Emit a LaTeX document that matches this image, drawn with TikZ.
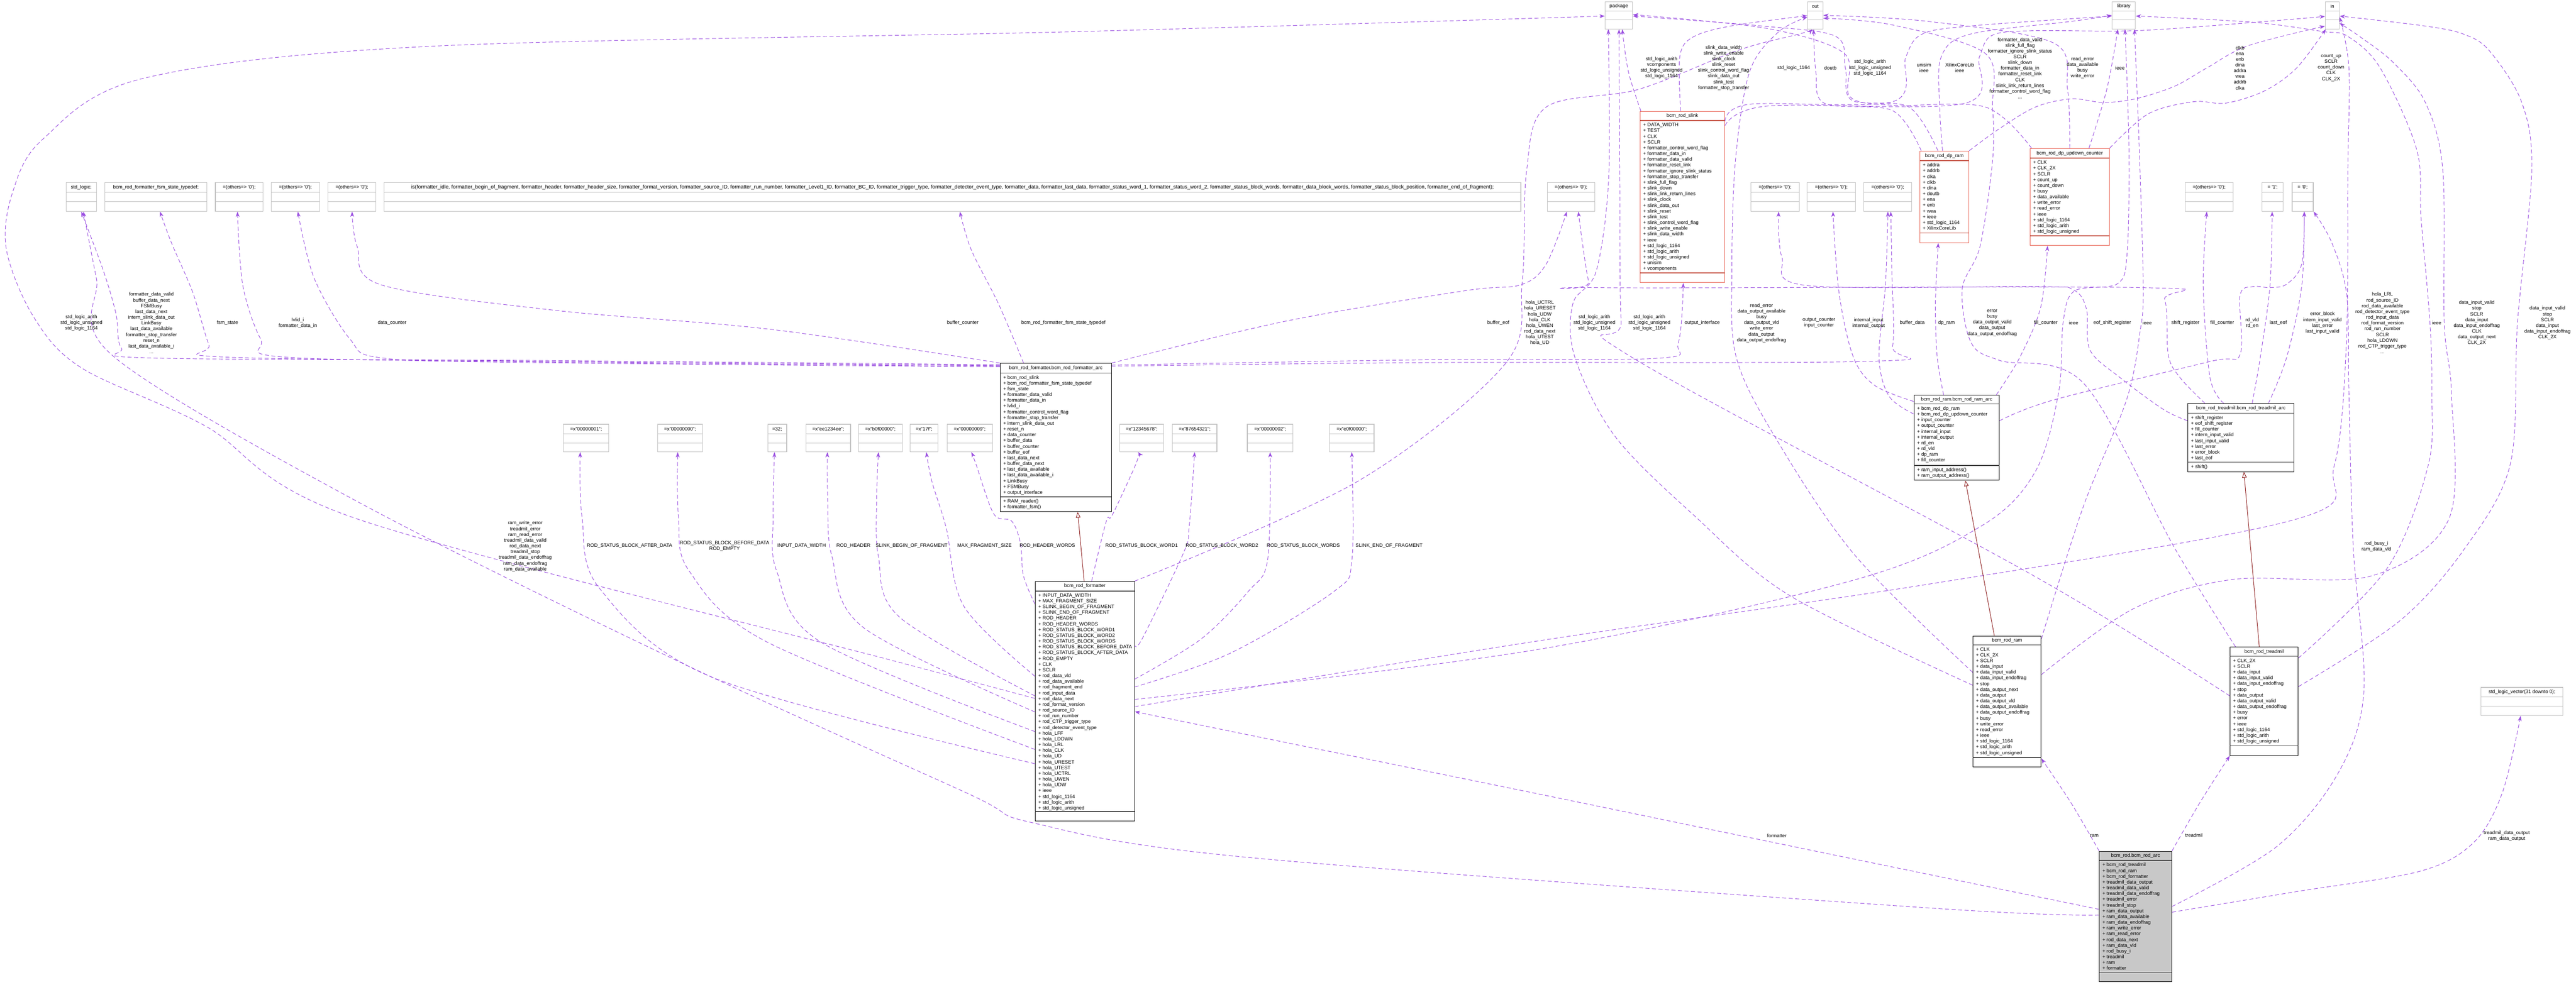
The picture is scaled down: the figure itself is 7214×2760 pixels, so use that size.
\documentclass[tikz,border=0pt]{standalone}
\usepackage{fontspec}
\usepackage{graphicx}
\setmainfont{Liberation Sans}
\usetikzlibrary{fit,calc,arrows.meta}
\pgfdeclarelayer{bg}
\pgfsetlayers{bg,main}
\definecolor{ecol}{RGB}{155,80,225}
\definecolor{inhcol}{RGB}{139,26,26}
\definecolor{gbord}{RGB}{195,195,195}
\definecolor{rbord}{RGB}{232,96,80}
\definecolor{rodfill}{RGB}{200,200,200}
\newcommand\dfs{\fontsize{3.9}{4.58}\selectfont}
\newcommand\q{\textquotesingle}
\tikzset{
 gbox/.style={draw=gbord, fill=white, line width=0.5pt},
 gboxsep/.style={draw=gbord, line width=0.5pt},
 rbox/.style={draw=rbord, fill=white, line width=0.45pt},
 rboxsep/.style={draw=rbord!85!black, line width=0.7pt},
 kbox/.style={draw=black, fill=white, line width=0.35pt},
 kboxsep/.style={draw=black!75, line width=0.6pt},
 rodbox/.style={draw=black, fill=rodfill, line width=0.35pt},
 rodboxsep/.style={draw=black!75, line width=0.6pt},
 ttl/.style={font=\dfs, inner sep=0pt, anchor=center},
 atx/.style={font=\dfs, inner sep=0pt, anchor=north west, align=left},
 lbl/.style={font=\dfs, inner sep=0pt, align=center, anchor=center},
 usedge/.style={draw=ecol, line width=0.4pt, dash pattern=on 3.2pt off 2pt, -{Stealth[length=4.2pt,width=3pt,inset=1.2pt]}},
 inh/.style={draw=inhcol, line width=0.4pt, -{Triangle[open,length=4.5pt,width=3.6pt]}},
}
% name, style, l, t, r, b, title-bottom, attr-bottom, title
\newcommand\ubox[9]{%
 \node[#2, fit={(#3,#4) (#5,#6)}, inner sep=0pt] (#1) {};
 \draw[#2sep] (#3,#7) -- (#5,#7);
 \draw[#2sep] (#3,#8) -- (#5,#8);
 \node[ttl] (#1T) at ({(#3+#5)/2},{(#4+#7)/2}) {#9};
}
\newcommand\atr[4]{\node[atx] (#1) at (#2+8,#3+6.5) {#4};}
\newcommand\ue[3]{%
 \coordinate (ueS) at (#1);
 \coordinate (ueT) at (#3);
 \draw[usedge] plot[smooth, tension=0.55] coordinates {(ueS) #2 (ueT)};
}
\begin{document}
\catcode`\_=12
\begin{tikzpicture}[x=0.01cm,y=-0.01cm]
\begin{pgfonlayer}{bg}
\fill[white] (0,0) rectangle (7214,2760);
\end{pgfonlayer}
\useasboundingbox (0,0) rectangle (7214,2760);

% ---------- top row
\ubox{pkg}{gbox}{4495}{5}{4572}{81}{31}{56}{package}
\ubox{outb}{gbox}{5062}{5}{5105}{81}{31}{56}{out}
\ubox{lib}{gbox}{5915}{5}{5980}{81}{31}{56}{library}
\ubox{inb}{gbox}{6512}{5}{6551}{81}{31}{56}{in}

% ---------- second row
\ubox{stdl}{gbox}{185}{511}{270}{592}{539}{565}{std_logic;}
\ubox{fsmt}{gbox}{294}{511}{579}{592}{539}{565}{bcm_rod_formatter_fsm_state_typedef;}
\ubox{oth1}{gbox}{603}{511}{737}{592}{539}{565}{=(others=> \q0\q);}
\ubox{oth2}{gbox}{760}{511}{895}{592}{539}{565}{=(others=> \q0\q);}
\ubox{oth3}{gbox}{918}{511}{1053}{592}{539}{565}{=(others=> \q0\q);}
\ubox{isb}{gbox}{1076}{511}{4259}{592}{539}{565}{\resizebox{30.3cm}{!}{\dfs is(formatter_idle, formatter_begin_of_fragment, formatter_header, formatter_header_size, formatter_format_version, formatter_source_ID, formatter_run_number, formatter_Level1_ID, formatter_BC_ID, formatter_trigger_type, formatter_detector_event_type, formatter_data, formatter_last_data, formatter_status_word_1, formatter_status_word_2, formatter_status_block_words, formatter_data_block_words, formatter_status_block_position, formatter_end_of_fragment);}}
\ubox{oth4}{gbox}{4333}{511}{4466}{592}{539}{565}{=(others=> \q0\q);}
\ubox{oth5}{gbox}{4903}{511}{5039}{592}{539}{565}{=(others=> \q0\q);}
\ubox{oth6}{gbox}{5061}{511}{5196}{592}{539}{565}{=(others=> \q0\q);}
\ubox{oth7}{gbox}{5219}{511}{5354}{592}{539}{565}{=(others=> \q0\q);}
\ubox{oth8}{gbox}{6119}{511}{6254}{592}{539}{565}{=(others=> \q0\q);}
\ubox{one}{gbox}{6335}{511}{6394}{592}{539}{565}{= \q1\q;}
\ubox{zero}{gbox}{6419}{511}{6478}{592}{539}{565}{= \q0\q;}

\ubox{slink}{rbox}{4593}{312}{4830}{792}{338}{765}{bcm_rod_slink}
\atr{slinkA}{4593}{338}{+ DATA_WIDTH\\+ TEST\\+ CLK\\+ SCLR\\+ formatter_control_word_flag\\+ formatter_data_in\\+ formatter_data_valid\\+ formatter_reset_link\\+ formatter_ignore_slink_status\\+ formatter_stop_transfer\\+ slink_full_flag\\+ slink_down\\+ slink_link_return_lines\\+ slink_clock\\+ slink_data_out\\+ slink_reset\\+ slink_test\\+ slink_control_word_flag\\+ slink_write_enable\\+ slink_data_width\\+ ieee\\+ std_logic_1164\\+ std_logic_arith\\+ std_logic_unsigned\\+ unisim\\+ vcomponents}
\ubox{dpram}{rbox}{5376}{423}{5514}{680}{450}{653}{bcm_rod_dp_ram}
\atr{dpramA}{5376}{450}{+ addra\\+ addrb\\+ clka\\+ clkb\\+ dina\\+ doutb\\+ ena\\+ enb\\+ wea\\+ ieee\\+ std_logic_1164\\+ XilinxCoreLib}
\ubox{dpuc}{rbox}{5685}{416}{5907}{688}{443}{661}{bcm_rod_dp_updown_counter}
\atr{dpucA}{5685}{443}{+ CLK\\+ CLK_2X\\+ SCLR\\+ count_up\\+ count_down\\+ busy\\+ data_available\\+ write_error\\+ read_error\\+ ieee\\+ std_logic_1164\\+ std_logic_arith\\+ std_logic_unsigned}

% ---------- architectures
\ubox{fa}{kbox}{2801}{1018}{3112}{1434}{1045}{1392}{bcm_rod_formatter.bcm_rod_formatter_arc}
\atr{faA}{2801}{1045}{+ bcm_rod_slink\\+ bcm_rod_formatter_fsm_state_typedef\\+ fsm_state\\+ formatter_data_valid\\+ formatter_data_in\\+ lvlid_i\\+ formatter_control_word_flag\\+ formatter_stop_transfer\\+ intern_slink_data_out\\+ reset_n\\+ data_counter\\+ buffer_data\\+ buffer_counter\\+ buffer_eof\\+ last_data_next\\+ buffer_data_next\\+ last_data_available\\+ last_data_available_i\\+ LinkBusy\\+ FSMBusy\\+ output_interface}
\atr{faM}{2801}{1392}{+ RAM_reader()\\+ formatter_fsm()}

\ubox{ramarc}{kbox}{5360}{1107}{5599}{1346}{1132}{1304}{bcm_rod_ram.bcm_rod_ram_arc}
\atr{ramarcA}{5360}{1132}{+ bcm_rod_dp_ram\\+ bcm_rod_dp_updown_counter\\+ input_counter\\+ output_counter\\+ internal_input\\+ internal_output\\+ rd_en\\+ rd_vld\\+ dp_ram\\+ fill_counter}
\atr{ramarcM}{5360}{1304}{+ ram_input_address()\\+ ram_output_address()}

\ubox{tmarc}{kbox}{6127}{1131}{6424}{1322}{1158}{1295}{bcm_rod_treadmil.bcm_rod_treadmil_arc}
\atr{tmarcA}{6127}{1158}{+ shift_register\\+ eof_shift_register\\+ fill_counter\\+ intern_input_valid\\+ last_input_valid\\+ last_error\\+ error_block\\+ last_eof}
\atr{tmarcM}{6127}{1295}{+ shift()}

% ---------- constants
\ubox{ca}{gbox}{1578}{1189}{1705}{1266}{1216}{1241}{=x"00000001";}
\ubox{cb}{gbox}{1842}{1189}{1967}{1266}{1216}{1241}{=x"00000000";}
\ubox{cc}{gbox}{2150}{1189}{2203}{1266}{1216}{1241}{=32;}
\ubox{cd}{gbox}{2257}{1189}{2382}{1266}{1216}{1241}{=x"ee1234ee";}
\ubox{ce}{gbox}{2404}{1189}{2527}{1266}{1216}{1241}{=x"b0f00000";}
\ubox{cf}{gbox}{2549}{1189}{2627}{1266}{1216}{1241}{=x"17f";}
\ubox{cg}{gbox}{2652}{1189}{2779}{1266}{1216}{1241}{=x"00000009";}
\ubox{ch}{gbox}{3136}{1189}{3259}{1266}{1216}{1241}{=x"12345678";}
\ubox{ci}{gbox}{3283}{1189}{3408}{1266}{1216}{1241}{=x"87654321";}
\ubox{cj}{gbox}{3493}{1189}{3621}{1266}{1216}{1241}{=x"00000002";}
\ubox{ck}{gbox}{3723}{1189}{3848}{1266}{1216}{1241}{=x"e0f00000";}

% ---------- entities
\ubox{fmt}{kbox}{2899}{1629}{3177}{2301}{1656}{2274}{bcm_rod_formatter}
\atr{fmtA}{2899}{1656}{+ INPUT_DATA_WIDTH\\+ MAX_FRAGMENT_SIZE\\+ SLINK_BEGIN_OF_FRAGMENT\\+ SLINK_END_OF_FRAGMENT\\+ ROD_HEADER\\+ ROD_HEADER_WORDS\\+ ROD_STATUS_BLOCK_WORD1\\+ ROD_STATUS_BLOCK_WORD2\\+ ROD_STATUS_BLOCK_WORDS\\+ ROD_STATUS_BLOCK_BEFORE_DATA\\+ ROD_STATUS_BLOCK_AFTER_DATA\\+ ROD_EMPTY\\+ CLK\\+ SCLR\\+ rod_data_vld\\+ rod_data_available\\+ rod_fragment_end\\+ rod_input_data\\+ rod_data_next\\+ rod_format_version\\+ rod_source_ID\\+ rod_run_number\\+ rod_CTP_trigger_type\\+ rod_detector_event_type\\+ hola_LFF\\+ hola_LDOWN\\+ hola_LRL\\+ hola_CLK\\+ hola_UD\\+ hola_URESET\\+ hola_UTEST\\+ hola_UCTRL\\+ hola_UWEN\\+ hola_UDW\\+ ieee\\+ std_logic_1164\\+ std_logic_arith\\+ std_logic_unsigned}

\ubox{ram}{kbox}{5525}{1782}{5716}{2149}{1807}{2122}{bcm_rod_ram}
\atr{ramA}{5525}{1807}{+ CLK\\+ CLK_2X\\+ SCLR\\+ data_input\\+ data_input_valid\\+ data_input_endoffrag\\+ stop\\+ data_output_next\\+ data_output\\+ data_output_vld\\+ data_output_available\\+ data_output_endoffrag\\+ busy\\+ write_error\\+ read_error\\+ ieee\\+ std_logic_1164\\+ std_logic_arith\\+ std_logic_unsigned}

\ubox{tm}{kbox}{6245}{1813}{6436}{2117}{1839}{2090}{bcm_rod_treadmil}
\atr{tmA}{6245}{1839}{+ CLK_2X\\+ SCLR\\+ data_input\\+ data_input_valid\\+ data_input_endoffrag\\+ stop\\+ data_output\\+ data_output_valid\\+ data_output_endoffrag\\+ busy\\+ error\\+ ieee\\+ std_logic_1164\\+ std_logic_arith\\+ std_logic_unsigned}

\ubox{slv}{gbox}{6948}{1926}{7177}{2005}{1953}{1979}{std_logic_vector(31 downto 0);}

\ubox{rod}{rodbox}{5879}{2385}{6082}{2751}{2411}{2725}{bcm_rod.bcm_rod_arc}
\atr{rodA}{5879}{2411}{+ bcm_rod_treadmil\\+ bcm_rod_ram\\+ bcm_rod_formatter\\+ treadmil_data_output\\+ treadmil_data_valid\\+ treadmil_data_endoffrag\\+ treadmil_error\\+ treadmil_stop\\+ ram_data_output\\+ ram_data_available\\+ ram_data_endoffrag\\+ ram_write_error\\+ ram_read_error\\+ rod_data_next\\+ ram_data_vld\\+ rod_busy_i\\+ treadmil\\+ ram\\+ formatter}

% ---------- connectors
\begin{pgfonlayer}{bg}
% formatter_arc
\ue{$(fa.west)+(0,-204)$}{(1500,1010) (420,1003) (340,975) (325,880) (290,760)}{$(stdl.south)+(0,0)$}
\ue{$(fa.west)+(0,-202)$}{(1500,1012) (620,1000) (585,965) (540,820) (480,680)}{$(fsmt.south)+(11.5,0)$}
\ue{$(fa.west)+(0,-200)$}{(1500,1014) (790,1000) (730,950) (680,800)}{$(oth1.south)+(-5,0)$}
\ue{$(fa.west)+(0,-198)$}{(1500,1016) (1070,1003) (980,950) (880,780)}{$(oth2.south)+(6.5,0)$}
\ue{$(fa.north west)$}{(2160,923) (1558,870) (1067,798) (1000,690)}{$(oth3.south)+(0.5,0)$}
\ue{$(fa.north)+(-90,0)$}{(2797,853) (2720,700)}{$(isb.south)+(20.5,0)$}
\ue{$(fa.north east)$}{(3600,900) (4100,815) (4259,798) (4330,740)}{$(oth4.south)+(-11.5,0)$}
\ue{$(fa.east)+(0,-200)$}{(4000,1016) (5250,1012) (5300,970) (5298,760)}{$(oth7.south)+(8.5,0)$}
\ue{$(fa.east)+(0,-203)$}{(4000,1008) (4640,1004) (4700,960)}{$(slink.south)+(2.5,0)$}
% formatter
\ue{$(fmt.west)+(0,-8)$}{(2496,1850) (1000,1454) (574,1193) (230,1032) (96,891) (18,700) (35,540) (120,390) (400,220) (1200,130) (3000,89)}{$(pkg.west)+(0,2)$}
\ue{$(fmt.east)+(0,-5)$}{(4300,1821) (5193,1625) (5550,1473) (5700,1321) (5765,1100) (5778,900) (5810,815) (5930,795) (5957,707) (5962,420)}{$(lib.south)+(3.5,0)$}
\ue{$(fmt.east)+(0,15)$}{(4300,1797) (5400,1637) (6433,1454) (6537,1304) (6571,960) (6575,478) (6578,191)}{$(inb.east)+(0,5)$}
\ue{$(fmt.north east)$}{(3800,1350) (4214,1021) (4263,789) (4275,480) (4330,300) (4590,250) (4870,140) (5040,95)}{$(outb.south)+(-8,0)$}
\ue{$(fmt.west)+(0,175)$}{(2000,1900) (1680,1650) (1630,1450)}{$(ca.south)+(-16.5,0)$}
\ue{$(fmt.west)+(0,135)$}{(2150,1800) (1930,1600) (1900,1450)}{$(cb.south)+(-6.5,0)$}
\ue{$(fmt.west)+(0,85)$}{(2300,1800) (2175,1600) (2165,1450)}{$(cc.south)+(-7.5,0)$}
\ue{$(fmt.west)+(0,30)$}{(2420,1760) (2330,1560) (2318,1400)}{$(cd.south)+(-2.5,0)$}
\ue{$(fmt.west)+(0,-15)$}{(2520,1730) (2460,1560) (2455,1400)}{$(ce.south)+(-5.5,0)$}
\ue{$(fmt.west)+(0,-70)$}{(2700,1700) (2650,1480) (2610,1350)}{$(cf.south)+(6,0)$}
\ue{$(fmt.west)+(0,-272)$}{(2866,1613) (2858,1523) (2833,1460) (2783,1440) (2733,1300)}{$(cg.south)+(4.5,0)$}
\ue{$(fmt.north)+(19,0)$}{(3098,1461) (3115,1443) (3181,1300)}{$(ch.south)+(-10.5,0)$}
\ue{$(fmt.east)+(0,-161)$}{(3198,1791) (3314,1550) (3330,1479)}{$(ci.south)+(0,0)$}
\ue{$(fmt.east)+(0,-62)$}{(3363,1791) (3496,1657) (3550,1568)}{$(cj.south)+(0,0)$}
\ue{$(fmt.east)+(0,-40)$}{(3446,1830) (3736,1657) (3786,1568)}{$(ck.south)+(0,0)$}
% ram
\ue{$(ram.west)+(0,-45.5)$}{(5014,1670) (4746,1446) (4523,1223) (4410,1000) (4405,850) (4470,760) (4505,500)}{$(pkg.south)+(-29.5,0)$}
\ue{$(ram.east)+(0,-175)$}{(5834,1420) (5955,1121) (5993,930) (6002,803) (5991,420)}{$(lib.south)+(30,0)$}
\ue{$(ram.east)+(0,-75)$}{(5974,1706) (6250,1624) (6640,1614) (6858,1454) (6865,1100) (6845,905) (6841,478) (6792,287) (6702,175) (6612,105)}{$(inb.east)+(0,22)$}
\ue{$(ram.west)+(0,-81.5)$}{(5193,1554) (4970,1223) (4862,1000) (4850,760) (4860,450) (4900,200) (4980,90)}{$(outb.west)+(0,5)$}
% treadmil
\ue{$(tm.west)+(0,-15)$}{(5700,1616) (4568,1000) (4540,900) (4536,500)}{$(pkg.south)+(0.5,0)$}
\ue{$(tm.east)+(0,-121)$}{(6686,1591) (6800,1304) (6810,1100) (6805,905) (6780,611) (6768,420) (6666,191) (6575,102) (6503,88) (6305,62)}{$(lib.east)+(0,2)$}
\ue{$(tm.east)+(0,-41)$}{(6720,1740) (6900,1540) (7030,1300) (7050,905) (7090,478) (7062,287) (6972,143) (6900,96) (6792,73)}{$(inb.east)+(0,2)$}
\ue{$(tm.north west)+(16,0)$}{(6089,1534) (5836,1075) (5600,1010) (5520,960) (5495,810) (5545,690) (5580,450) (5580,300) (5560,150) (5300,70)}{$(outb.east)+(0,8)$}
% ram arc
\ue{$(ramarc.north)+(-36.5,0)$}{(5425,1000) (5420,850)}{$(dpram.south)+(-17,0)$}
\ue{$(ramarc.north east)+(-9,0)$}{(5657,1000) (5715,860)}{$(dpuc.south)+(-62,0)$}
\ue{$(ramarc.west)+(0,-101.5)$}{(5250,1080) (5190,1000) (5150,820)}{$(oth6.south)+(4.5,0)$}
\ue{$(ramarc.west)+(0,-66.5)$}{(5290,1110) (5262,1000) (5280,800)}{$(oth7.south)+(0.5,0)$}
\ue{$(ramarc.east)+(0,-47.5)$}{(5750,1121) (6189,1013) (6273,994) (6273,828) (6310,803) (6357,806) (6404,796) (6446,739)}{$(zero.south)+(4.5,0)$}
% treadmil arc
\ue{$(tmarc.north)+(-47.5,0)$}{(6189,1058) (6170,803)}{$(oth8.south)+(-6.5,0)$}
\ue{$(tmarc.north)+(31.5,0)$}{(6330,1000) (6357,800)}{$(one.south)+(-1.5,0)$}
\ue{$(tmarc.north)+(77,0)$}{(6404,1000) (6446,800)}{$(zero.south)+(4.5,0)$}
\ue{$(tmarc.north)+(-100.5,0)$}{(6105,1058) (6072,994) (6062,840) (6000,806) (4478,806) (4449,789)}{$(oth4.south)+(20.5,0)$}
\ue{$(tmarc.west)+(0,-47.5)$}{(6058,1147) (5937,1058) (5853,981) (5843,866) (5806,812) (5700,803) (5060,800) (4990,720)}{$(oth5.south)+(10,0)$}
% bcm_rod arc
\ue{$(rod.north west)$}{(5800,2250)}{$(ram.east)+(0,160)$}
\ue{$(rod.north east)$}{(6160,2250)}{$(tm.south west)$}
\ue{$(rod.west)+(0,-20)$}{(5157,2400) (4300,2223) (3500,2060)}{$(fmt.east)+(0,29)$}
\ue{$(rod.west)+(0,-4)$}{(5400,2544) (3500,2403) (2894,2306) (2705,2221) (1893,1850) (1000,1405) (316,997) (270,780)}{$(stdl.south)+(6,0)$}
\ue{$(rod.east)+(0,-12)$}{(6433,2498) (6778,2441) (6927,2361) (7007,2223)}{$(slv.south)+(-3.5,0)$}
\ue{$(rod.east)+(0,-28)$}{(6376,2372) (6548,2166) (6620,1936) (6590,1531) (6578,1100) (6572,828) (6530,680)}{$(zero.south east)$}
% slink
\ue{$(slink.north west)+(3,0)$}{(4560,200)}{$(pkg.south)+(9.5,0)$}
\ue{$(slink.north)+(-5,0)$}{(4704,160) (4739,105) (4846,73)}{$(outb.west)+(0,1)$}
\ue{$(slink.east)+(0,-212)$}{(4900,292) (5300,285) (5337,160) (5382,96) (5516,73)}{$(lib.west)+(0,2)$}
\ue{$(slink.east)+(0,-200)$}{(4950,297) (5500,290) (5543,160) (5579,99) (5695,86) (5980,86) (6296,64)}{$(inb.west)+(0,3)$}
% dp ram
\ue{$(dpram.north)+(-18,0)$}{(5346,300) (5186,281) (5168,191) (5141,102) (4936,73)}{$(pkg.east)+(0,2)$}
\ue{$(dpram.north west)+(5,0)$}{(5300,310) (5110,290) (5085,200)}{$(outb.south)+(-4.5,0)$}
\ue{$(dpram.north)+(-5,0)$}{(5432,300) (5436,160) (5516,96) (5800,60)}{$(lib.west)$}
\ue{$(dpram.north east)$}{(5600,360) (5700,300) (5800,277) (5890,287) (5980,277) (6089,242) (6179,191) (6296,128)}{$(inb.west)+(0,30)$}
% dp updown counter
\ue{$(dpuc.north west)+(5,0)$}{(5560,300) (5300,295) (5180,270) (5165,150) (4950,80)}{$(pkg.east)+(0,-2)$}
\ue{$(dpuc.north)$}{(5790,250) (5750,120) (5400,60)}{$(outb.east)$}
\ue{$(dpuc.north)+(54,0)$}{(5900,250)}{$(lib.south)+(-16.5,0)$}
\ue{$(dpuc.north east)$}{(6016,319) (6143,285) (6233,289) (6341,255) (6431,191)}{$(inb.south west)+(2,0)$}
% inheritance
\draw[inh] ($(fmt.north)+(-2,0)$) -- ($(fa.south)+(61.5,0)$);
\draw[inh] ($(ram.north)+(-35.5,0)$) -- ($(ramarc.south)+(24.5,0)$);
\draw[inh] ($(tm.north)+(-13.5,0)$) -- ($(tmarc.south)+(8.5,0)$);
\end{pgfonlayer}

% ---------- connector labels
\node[lbl] (t1) at (4653,190) {std_logic_arith\\vcomponents\\std_logic_unsigned\\std_logic_1164};
\node[lbl] (t2) at (4827,190) {slink_data_width\\slink_write_enable\\slink_clock\\slink_reset\\slink_control_word_flag\\slink_data_out\\slink_test\\formatter_stop_transfer};
\node[lbl] (t3) at (5023,190) {std_logic_1164};
\node[lbl] (t4) at (5126,190) {doutb};
\node[lbl] (t5) at (5237,190) {std_logic_arith\\std_logic_unsigned\\std_logic_1164};
\node[lbl] (t6) at (5388,190) {unisim\\ieee};
\node[lbl] (t7) at (5488,190) {XilinxCoreLib\\ieee};
\node[lbl] (t8) at (5657,191) {formatter_data_valid\\slink_full_flag\\formatter_ignore_slink_status\\SCLR\\slink_down\\formatter_data_in\\formatter_reset_link\\CLK\\slink_link_return_lines\\formatter_control_word_flag\\...};
\node[lbl] (t9) at (5832,190) {read_error\\data_available\\busy\\write_error};
\node[lbl] (t10) at (5937,190) {ieee};
\node[lbl] (t11) at (6273,190) {clkb\\ena\\enb\\dina\\addra\\wea\\addrb\\clka};
\node[lbl] (t12) at (6528,190) {count_up\\SCLR\\count_down\\CLK\\CLK_2X};

\node[lbl] (m1) at (228,905) {std_logic_arith\\std_logic_unsigned\\std_logic_1164};
\node[lbl] (m2) at (424,905) {formatter_data_valid\\buffer_data_next\\FSMBusy\\last_data_next\\intern_slink_data_out\\LinkBusy\\last_data_available\\formatter_stop_transfer\\reset_n\\last_data_available_i\\...};
\node[lbl] (m3) at (637,905) {fsm_state};
\node[lbl] (m4) at (834,905) {lvlid_i\\formatter_data_in};
\node[lbl] (m5) at (1098,905) {data_counter};
\node[lbl] (m6) at (2696,905) {buffer_counter};
\node[lbl] (m7) at (2978,905) {bcm_rod_formatter_fsm_state_typedef};
\node[lbl] (m8) at (4196,905) {buffer_eof};
\node[lbl] (m9) at (4312,905) {hola_UCTRL\\hola_URESET\\hola_UDW\\hola_CLK\\hola_UWEN\\rod_data_next\\hola_UTEST\\hola_UD};
\node[lbl] (m10) at (4465,905) {std_logic_arith\\std_logic_unsigned\\std_logic_1164};
\node[lbl] (m11) at (4619,905) {std_logic_arith\\std_logic_unsigned\\std_logic_1164};
\node[lbl] (m12) at (4767,905) {output_interface};
\node[lbl] (m13) at (4933,905) {read_error\\data_output_available\\busy\\data_output_vld\\write_error\\data_output\\data_output_endoffrag};
\node[lbl] (m14) at (5094,905) {output_counter\\input_counter};
\node[lbl] (m15) at (5233,905) {internal_input\\internal_output};
\node[lbl] (m16) at (5355,905) {buffer_data};
\node[lbl] (m17) at (5451,905) {dp_ram};
\node[lbl] (m18) at (5579,905) {error\\busy\\data_output_valid\\data_output\\data_output_endoffrag};
\node[lbl] (m19) at (5729,905) {fill_counter};
\node[lbl] (m20) at (5807,905) {ieee};
\node[lbl] (m21) at (5915,905) {eof_shift_register};
\node[lbl] (m22) at (6013,905) {ieee};
\node[lbl] (m23) at (6120,905) {shift_register};
\node[lbl] (m24) at (6223,905) {fill_counter};
\node[lbl] (m25) at (6307,905) {rd_vld\\rd_en};
\node[lbl] (m26) at (6380,905) {last_eof};
\node[lbl] (m27) at (6504,905) {error_block\\intern_input_valid\\last_error\\last_input_valid};
\node[lbl] (m28) at (6672,905) {hola_LRL\\rod_source_ID\\rod_data_available\\rod_detector_event_type\\rod_input_data\\rod_format_version\\rod_run_number\\SCLR\\hola_LDOWN\\rod_CTP_trigger_type\\...};
\node[lbl] (m29) at (6824,905) {ieee};
\node[lbl] (m30) at (6936,905) {data_input_valid\\stop\\SCLR\\data_input\\data_input_endoffrag\\CLK\\data_output_next\\CLK_2X};
\node[lbl] (m31) at (7134,905) {data_input_valid\\stop\\SCLR\\data_input\\data_input_endoffrag\\CLK_2X};

\node[lbl] (k1) at (1763,1530) {ROD_STATUS_BLOCK_AFTER_DATA};
\node[lbl] (k2) at (2029,1530) {ROD_STATUS_BLOCK_BEFORE_DATA\\ROD_EMPTY};
\node[lbl] (k3) at (2245,1530) {INPUT_DATA_WIDTH};
\node[lbl] (k4) at (2390,1530) {ROD_HEADER};
\node[lbl] (k5) at (2553,1530) {SLINK_BEGIN_OF_FRAGMENT};
\node[lbl] (k6) at (2757,1530) {MAX_FRAGMENT_SIZE};
\node[lbl] (k7) at (2933,1530) {ROD_HEADER_WORDS};
\node[lbl] (k8) at (3197,1530) {ROD_STATUS_BLOCK_WORD1};
\node[lbl] (k9) at (3422,1530) {ROD_STATUS_BLOCK_WORD2};
\node[lbl] (k10) at (3650,1530) {ROD_STATUS_BLOCK_WORDS};
\node[lbl] (k11) at (3890,1530) {SLINK_END_OF_FRAGMENT};
\node[lbl] (k12) at (1471,1531) {ram_write_error\\treadmil_error\\ram_read_error\\treadmil_data_valid\\rod_data_next\\treadmil_stop\\treadmil_data_endoffrag\\ram_data_endoffrag\\ram_data_available};
\node[lbl] (k13) at (6655,1531) {rod_busy_i\\ram_data_vld};

\node[lbl] (b1) at (5865,2341) {ram};
\node[lbl] (b2) at (6144,2341) {treadmil};
\node[lbl] (b3) at (4976,2342) {formatter};
\node[lbl] (b4) at (7020,2342) {treadmil_data_output\\ram_data_output};
\end{tikzpicture}
\end{document}
